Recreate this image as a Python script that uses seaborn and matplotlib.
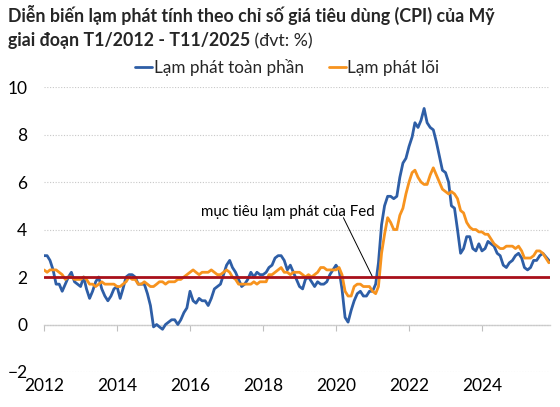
import matplotlib
matplotlib.use("Agg")
import matplotlib.pyplot as plt
import matplotlib.dates as mdates
import numpy as np
import pandas as pd
import seaborn as sns

# CPI y/y (%), Jan 2012 - Nov 2025 (no Oct 2025 release)
headline = [
    2.9, 2.9, 2.7, 2.3, 1.7, 1.7, 1.4, 1.7, 2.0, 2.2, 1.8, 1.7,
    1.6, 2.0, 1.5, 1.1, 1.4, 1.8, 2.0, 1.5, 1.2, 1.0, 1.2, 1.5,
    1.6, 1.1, 1.5, 2.0, 2.1, 2.1, 2.0, 1.7, 1.7, 1.7, 1.3, 0.8,
    -0.1, 0.0, -0.1, -0.2, 0.0, 0.1, 0.2, 0.2, 0.0, 0.2, 0.5, 0.7,
    1.4, 1.0, 0.9, 1.1, 1.0, 1.0, 0.8, 1.1, 1.5, 1.6, 1.7, 2.1,
    2.5, 2.7, 2.4, 2.2, 1.9, 1.6, 1.7, 1.9, 2.2, 2.0, 2.2, 2.1,
    2.1, 2.2, 2.4, 2.5, 2.8, 2.9, 2.9, 2.7, 2.3, 2.5, 2.2, 1.9,
    1.6, 1.5, 1.9, 2.0, 1.8, 1.6, 1.8, 1.7, 1.7, 1.8, 2.1, 2.3,
    2.5, 2.3, 1.5, 0.3, 0.1, 0.6, 1.0, 1.3, 1.4, 1.2, 1.2, 1.4,
    1.4, 1.7, 2.6, 4.2, 5.0, 5.4, 5.4, 5.3, 5.4, 6.2, 6.8, 7.0,
    7.5, 7.9, 8.5, 8.3, 8.6, 9.1, 8.5, 8.3, 8.2, 7.7, 7.1, 6.5,
    6.4, 6.0, 5.0, 4.9, 4.0, 3.0, 3.2, 3.7, 3.7, 3.2, 3.1, 3.4,
    3.1, 3.2, 3.5, 3.4, 3.3, 3.0, 2.9, 2.5, 2.4, 2.6, 2.7, 2.9,
    3.0, 2.8, 2.4, 2.3, 2.4, 2.7, 2.7, 2.9, 3.0, 2.7,
]
core = [
    2.3, 2.2, 2.3, 2.3, 2.3, 2.2, 2.1, 1.9, 2.0, 2.0, 1.9, 1.9,
    1.9, 2.0, 1.9, 1.7, 1.7, 1.6, 1.7, 1.8, 1.7, 1.7, 1.7, 1.7,
    1.6, 1.6, 1.7, 1.8, 2.0, 1.9, 1.9, 1.7, 1.7, 1.8, 1.7, 1.6,
    1.6, 1.7, 1.8, 1.8, 1.7, 1.8, 1.8, 1.8, 1.9, 1.9, 2.0, 2.1,
    2.2, 2.3, 2.2, 2.1, 2.2, 2.2, 2.2, 2.3, 2.2, 2.1, 2.1, 2.2,
    2.3, 2.2, 2.0, 1.9, 1.7, 1.7, 1.7, 1.7, 1.7, 1.8, 1.7, 1.8,
    1.8, 1.8, 2.1, 2.1, 2.2, 2.3, 2.4, 2.2, 2.2, 2.1, 2.2, 2.2,
    2.2, 2.1, 2.0, 2.1, 2.0, 2.1, 2.2, 2.4, 2.4, 2.3, 2.3, 2.3,
    2.3, 2.4, 2.1, 1.4, 1.2, 1.2, 1.6, 1.7, 1.7, 1.6, 1.6, 1.6,
    1.4, 1.3, 1.6, 3.0, 3.8, 4.5, 4.3, 4.0, 4.0, 4.6, 4.9, 5.5,
    6.0, 6.4, 6.5, 6.2, 6.0, 5.9, 5.9, 6.3, 6.6, 6.3, 6.0, 5.7,
    5.6, 5.5, 5.6, 5.5, 5.3, 4.8, 4.7, 4.3, 4.1, 4.0, 4.0, 3.9,
    3.9, 3.8, 3.8, 3.6, 3.4, 3.3, 3.2, 3.2, 3.3, 3.3, 3.3, 3.2,
    3.3, 3.1, 2.8, 2.8, 2.8, 2.9, 3.1, 3.1, 3.0, 2.6,
]
fed_target = 2
series_names = ["Lạm phát toàn phần", "Lạm phát lõi"]
year_ticks = [2012, 2014, 2016, 2018, 2020, 2022, 2024]

months = pd.date_range("2012-01-01", "2025-11-01", freq="MS")
months = months[months != pd.Timestamp("2025-10-01")]

df = pd.concat([
    pd.DataFrame({"date": months, "value": headline, "series": series_names[0]}),
    pd.DataFrame({"date": months, "value": core, "series": series_names[1]}),
])

sns.set_style("white")
plt.rcParams["font.family"] = ["Lato", "DejaVu Sans"]

fig = plt.figure(figsize=(5.6, 4.07), dpi=100)
ax = fig.add_axes([0.0786, 0.086, 0.9034, 0.700])

blue = "#2E5EA6"
orange = "#F7931E"
red = "#A8101A"

sns.lineplot(data=df, x="date", y="value", hue="series", hue_order=series_names,
             palette=[blue, orange], linewidth=2.0, ax=ax, legend=True)
ax.axhline(fed_target, color=red, linewidth=2.0, zorder=5)

ax.set_ylim(-2, 10)
ax.set_xlim(months[0], months[-1] + pd.Timedelta(days=10))
ax.set_yticks(np.arange(-2, 11, 2))
ax.set_xticks([pd.Timestamp(f"{y}-01-01") for y in year_ticks])
ax.xaxis.set_major_formatter(mdates.DateFormatter("%Y"))
ax.set_xlabel("")
ax.set_ylabel("")
ax.tick_params(axis="both", length=0, labelsize=12.5, colors="black")
ax.tick_params(axis="y", pad=12)
ax.tick_params(axis="x", pad=4)
ax.yaxis.grid(True, linestyle=(0, (1, 1.5)), color="#C8C8C8", linewidth=0.8)
for s in ax.spines.values():
    s.set_visible(False)

# zero line with year ticks
zero_frac = (0 - ax.get_ylim()[0]) / (ax.get_ylim()[1] - ax.get_ylim()[0])
sec = ax.secondary_xaxis(zero_frac)
sec.set_xticks(ax.get_xticks())
sec.tick_params(axis="x", direction="out", length=4, color="#BFBFBF", labelbottom=False, labeltop=False)
sec.spines["bottom"].set_color("#D0D0D0")
sec.spines["bottom"].set_linewidth(1.0)

# Fed target annotation
ax.text(mdates.date2num(pd.Timestamp("2018-09-01")), 4.58, "mục tiêu lạm phát của Fed",
        ha="center", va="baseline", fontsize=10.8, color="black")
ax.annotate("", xy=(mdates.date2num(pd.Timestamp("2021-01-01")), fed_target),
            xytext=(mdates.date2num(pd.Timestamp("2020-03-15")), 4.5),
            arrowprops=dict(arrowstyle="-", color="black", linewidth=0.7, shrinkA=0, shrinkB=0))

handles, labels = ax.get_legend_handles_labels()
ax.get_legend().remove()
fig.legend(handles, labels, loc="center", bbox_to_anchor=(0.513, 0.835), ncol=2,
           frameon=False, fontsize=12.3, handlelength=1.0, handletextpad=0.08,
           columnspacing=1.45)

# title
t1 = fig.text(8 / 560, 1 - 22 / 407, "Diễn biến lạm phát tính theo chỉ số giá tiêu dùng (CPI) của Mỹ",
              fontsize=12.8, fontweight="bold", va="baseline", ha="left")
t2 = fig.text(8 / 560, 1 - 46 / 407, "giai đoạn T1/2012 - T11/2025",
              fontsize=12.8, fontweight="bold", va="baseline", ha="left")
fig.canvas.draw()
bb = t2.get_window_extent()
fig.text(bb.x1 / fig.bbox.width, 1 - 46 / 407, " (đvt: %)", fontsize=12.8,
         va="baseline", ha="left")

fig.savefig("out.png", dpi=100)
